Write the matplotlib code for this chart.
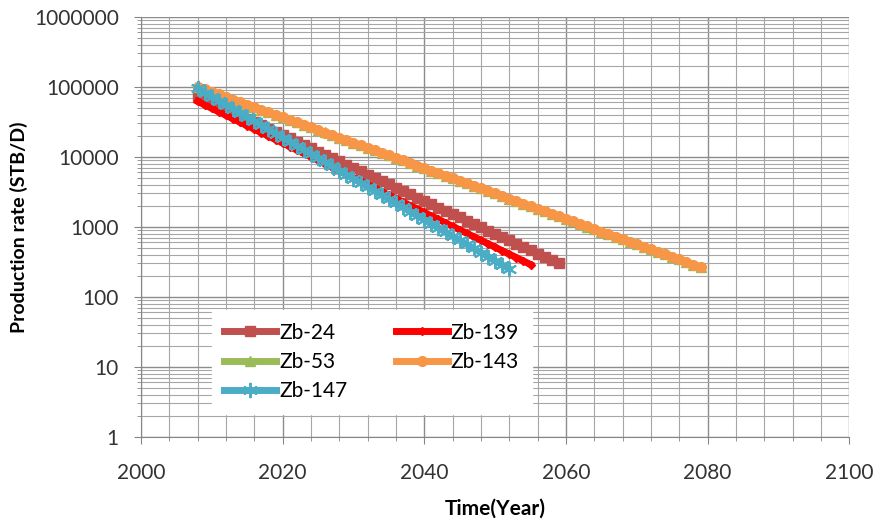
import matplotlib
matplotlib.use("Agg")
import matplotlib.pyplot as plt
from matplotlib.ticker import MultipleLocator, LogLocator, NullFormatter, FixedLocator

plt.rcParams['font.family'] = ['Lato', 'DejaVu Sans']

# Production rate (STB/D) per year
years_24 = list(range(2008, 2060))
zb_24 = [75000, 67305, 60400, 54203, 48642, 43651, 39172, 35153, 31547, 28310,
         25406, 22799, 20460, 18361, 16477, 14786, 13269, 11908, 10686, 9590,
         8606, 7723, 6931, 6220, 5582, 5009, 4495, 4034, 3620, 3249,
         2915, 2616, 2348, 2107, 1891, 1697, 1523, 1366, 1226, 1100,
         987, 886, 795, 714, 640, 575, 516, 463, 415, 373, 334, 300]

years_139 = list(range(2008, 2056))
zb_139 = [62000, 55310, 49342, 44018, 39269, 35032, 31252, 27880, 24872, 22188,
          19794, 17658, 15753, 14053, 12537, 11184, 9977, 8901, 7941, 7084,
          6320, 5638, 5030, 4487, 4003, 3571, 3186, 2842, 2535, 2262,
          2018, 1800, 1606, 1433, 1278, 1140, 1017, 907, 809, 722,
          644, 575, 513, 457, 408, 364, 325, 290]

# Zb-53 lies almost exactly under Zb-143
years_53 = list(range(2008, 2080))
zb_53 = [100000, 92000, 84600, 77800, 71600, 65900, 60600, 55700, 51300, 47200,
         43400, 39900, 36700, 33800, 31100, 28600, 26300, 24200, 22300, 20500,
         18800, 17300, 15900, 14700, 13500, 12400, 11400, 10500, 9660, 8880,
         8170, 7520, 6920, 6360, 5850, 5380, 4950, 4560, 4190, 3860,
         3550, 3260, 3000, 2760, 2540, 2340, 2150, 1980, 1820, 1670,
         1540, 1420, 1300, 1200, 1100, 1010, 933, 858, 789, 726,
         668, 614, 565, 520, 478, 440, 405, 372, 343, 315, 290, 267]

years_143 = list(range(2008, 2080))
zb_143 = [100000, 91990, 84620, 77840, 71610, 65870, 60600, 55740, 51280, 47170,
          43390, 39920, 36720, 33780, 31070, 28580, 26290, 24190, 22250, 20470,
          18830, 17320, 15930, 14660, 13480, 12400, 11410, 10500, 9656, 8883,
          8171, 7517, 6915, 6361, 5852, 5383, 4952, 4556, 4191, 3855,
          3546, 3262, 3001, 2761, 2540, 2336, 2149, 1977, 1819, 1673,
          1539, 1416, 1302, 1198, 1102, 1014, 933, 858, 789, 726,
          668, 614, 565, 520, 478, 440, 405, 372, 343, 315, 290, 267]

years_147 = list(range(2008, 2053))
zb_147 = [95000, 83000, 72519, 63360, 55358, 48367, 42258, 36921, 32258, 28184,
          24625, 21515, 18798, 16424, 14349, 12537, 10954, 9570, 8361, 7305,
          6383, 5577, 4872, 4257, 3719, 3250, 2839, 2481, 2167, 1894,
          1655, 1446, 1263, 1103, 964, 842, 736, 643, 562, 491,
          429, 375, 327, 286, 250]

y_ticks = [1, 10, 100, 1000, 10000, 100000, 1000000]
y_tick_labels = ['1', '10', '100', '1000', '10000', '100000', '1000000']

fig = plt.figure(figsize=(8.81, 5.27), dpi=100)
ax = fig.add_axes([0.160, 0.171, 0.804, 0.797])

# Series in Excel order (last drawn on top)
h24, = ax.plot(years_24, zb_24, color='#C0504D', lw=5, marker='s', ms=7,
               mec='#C0504D', label='Zb-24')
h139, = ax.plot(years_139, zb_139, color='#FF0000', lw=5, marker='D', ms=4.5,
                mec='#FF0000', label='Zb-139')
h53, = ax.plot(years_53, zb_53, color='#9BBB59', lw=5, marker='^', ms=7,
               mec='#9BBB59', label='Zb-53')
h143, = ax.plot(years_143, zb_143, color='#F79646', lw=5, marker='o', ms=7,
                mec='#F79646', label='Zb-143')
h147, = ax.plot(years_147, zb_147, color='#4BACC6', lw=5, marker=(6, 2, 0), ms=11,
                mew=1.4, mec='#4BACC6', label='Zb-147')

ax.set_yscale('log')
ax.set_xlim(2000, 2100)
ax.set_ylim(1, 1000000)
ax.xaxis.set_major_locator(MultipleLocator(20))
ax.xaxis.set_minor_locator(MultipleLocator(4))
ax.yaxis.set_major_locator(FixedLocator(y_ticks))
ax.set_yticklabels(y_tick_labels)
ax.yaxis.set_minor_locator(LogLocator(base=10, subs=range(2, 10), numticks=20))
ax.yaxis.set_minor_formatter(NullFormatter())

ax.grid(True, which='major', color='#8c8c8c', lw=1.0)
ax.grid(True, which='minor', color='#a6a6a6', lw=0.8)
ax.set_axisbelow(True)

for side in ['top', 'right']:
    ax.spines[side].set_visible(False)
for side in ['left', 'bottom']:
    ax.spines[side].set_color('#868686')

ax.tick_params(which='major', length=5, color='#868686', labelsize=15,
               labelcolor='#333333')
ax.tick_params(which='minor', length=3, color='#868686')
ax.tick_params(axis='x', pad=14)
ax.tick_params(axis='y', pad=11)

ax.set_xlabel('Time(Year)', fontsize=15, fontweight='bold', labelpad=11)
ax.set_ylabel('Production rate (STB/D)', fontsize=14, fontweight='bold',
              labelpad=4)

# legend is filled row by row in the original
leg = ax.legend([h24, h53, h147, h139, h143],
                ['Zb-24', 'Zb-53', 'Zb-147', 'Zb-139', 'Zb-143'],
                ncol=2, loc='upper left', bbox_to_anchor=(0.100, 0.302),
                borderaxespad=0, fontsize=15, frameon=True, fancybox=False,
                numpoints=1, handlelength=2.5, handletextpad=0.15,
                columnspacing=2.3, borderpad=0.6, labelspacing=0.45)
leg.get_frame().set_edgecolor('white')
leg.get_frame().set_facecolor('white')
leg.get_frame().set_alpha(1)

fig.savefig('out.png', dpi=100)
